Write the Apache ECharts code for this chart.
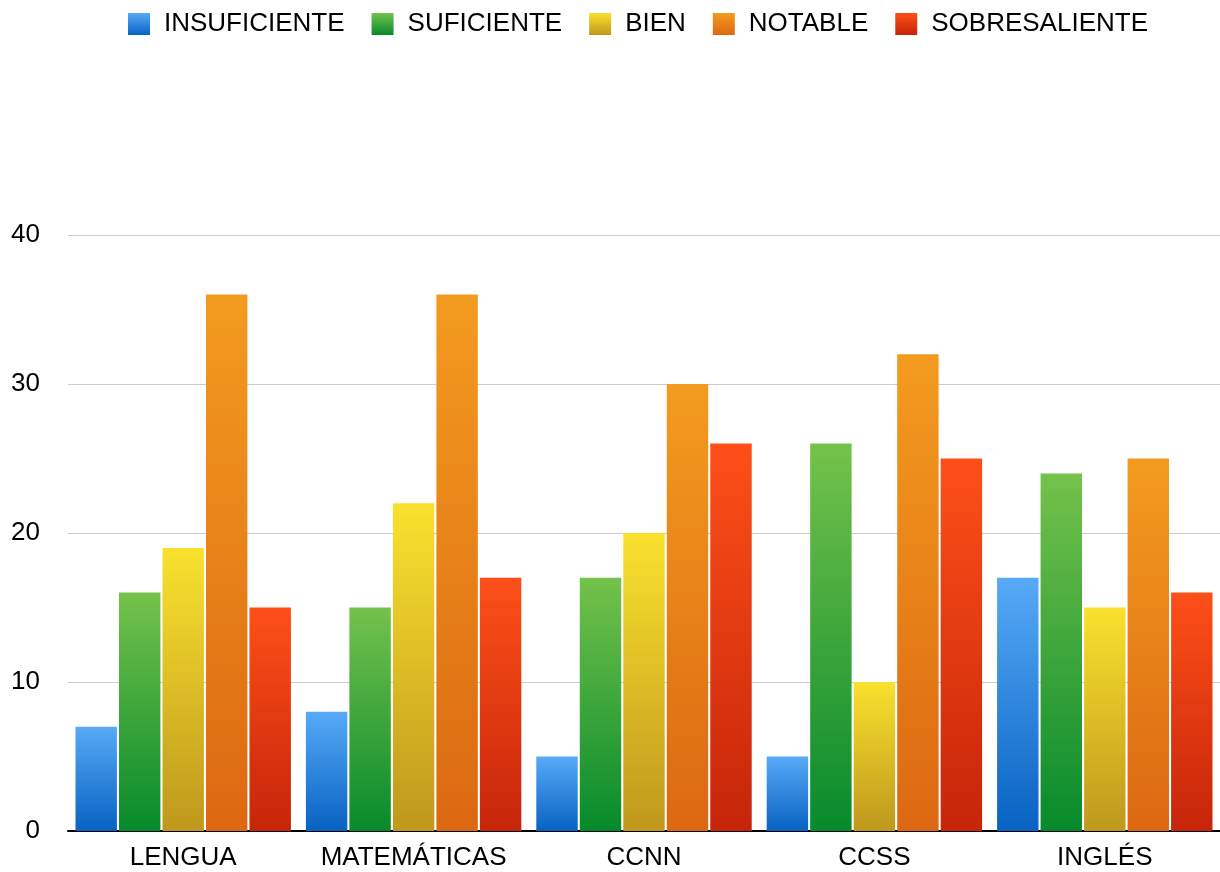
<!DOCTYPE html>
<html lang="es">
<head>
    <meta charset="UTF-8">
    <title>Calificaciones por asignatura</title>
    <script src="https://cdn.jsdelivr.net/npm/echarts@6/dist/echarts.min.js"></script>
    <style>
        html, body { margin: 0; padding: 0; background: #ffffff; }
        #chart { width: 1220px; height: 872px; }
    </style>
</head>
<body>
    <div id="chart"></div>
    <script>
        // Data
        var subjects = ['LENGUA', 'MATEMÁTICAS', 'CCNN', 'CCSS', 'INGLÉS'];
        var insuficiente = [7, 8, 5, 5, 17];
        var suficiente = [16, 15, 17, 26, 24];
        var bien = [19, 22, 20, 10, 15];
        var notable = [36, 36, 30, 32, 25];
        var sobresaliente = [15, 17, 26, 25, 16];

        // top colour, bottom colour
        var palette = [
            ['#57aaf7', '#0862c2'],
            ['#74c24b', '#078a2c'],
            ['#f9e12e', '#bf981d'],
            ['#f39b1f', '#dc6812'],
            ['#fd4f18', '#c6250a']
        ];

        function grad(c) {
            return new echarts.graphic.LinearGradient(0, 0, 0, 1, [
                { offset: 0, color: c[0] },
                { offset: 1, color: c[1] }
            ]);
        }

        var names = ['INSUFICIENTE', 'SUFICIENTE', 'BIEN', 'NOTABLE', 'SOBRESALIENTE'];
        var values = [insuficiente, suficiente, bien, notable, sobresaliente];

        var series = names.map(function (n, i) {
            return {
                name: n,
                type: 'bar',
                data: values[i],
                barGap: '5%',
                barCategoryGap: '6.5%',
                itemStyle: { color: grad(palette[i]) },
                emphasis: { disabled: true }
            };
        });

        var chart = echarts.init(document.getElementById('chart'));
        chart.setOption({
            animation: false,
            textStyle: { fontFamily: 'Liberation Sans, Arial, sans-serif' },
            legend: {
                left: 123,
                top: 6,
                icon: 'rect',
                itemWidth: 22,
                itemHeight: 22,
                itemGap: 27,
                textStyle: { fontSize: 26, color: '#000', padding: [0, 0, 0, 9] }
            },
            grid: { left: 68, right: 0, top: 235, bottom: 41 },
            xAxis: {
                type: 'category',
                data: subjects,
                axisTick: { show: false },
                axisLine: { lineStyle: { color: '#000', width: 2 } },
                axisLabel: { fontSize: 26, color: '#000', margin: 14, interval: 0 }
            },
            yAxis: {
                type: 'value',
                min: 0,
                max: 40,
                interval: 10,
                axisLine: { show: false },
                axisTick: { show: false },
                axisLabel: { fontSize: 26, color: '#000', margin: 28 },
                splitLine: { lineStyle: { color: '#cccccc', width: 1 } }
            },
            series: series
        });
    </script>
</body>
</html>
